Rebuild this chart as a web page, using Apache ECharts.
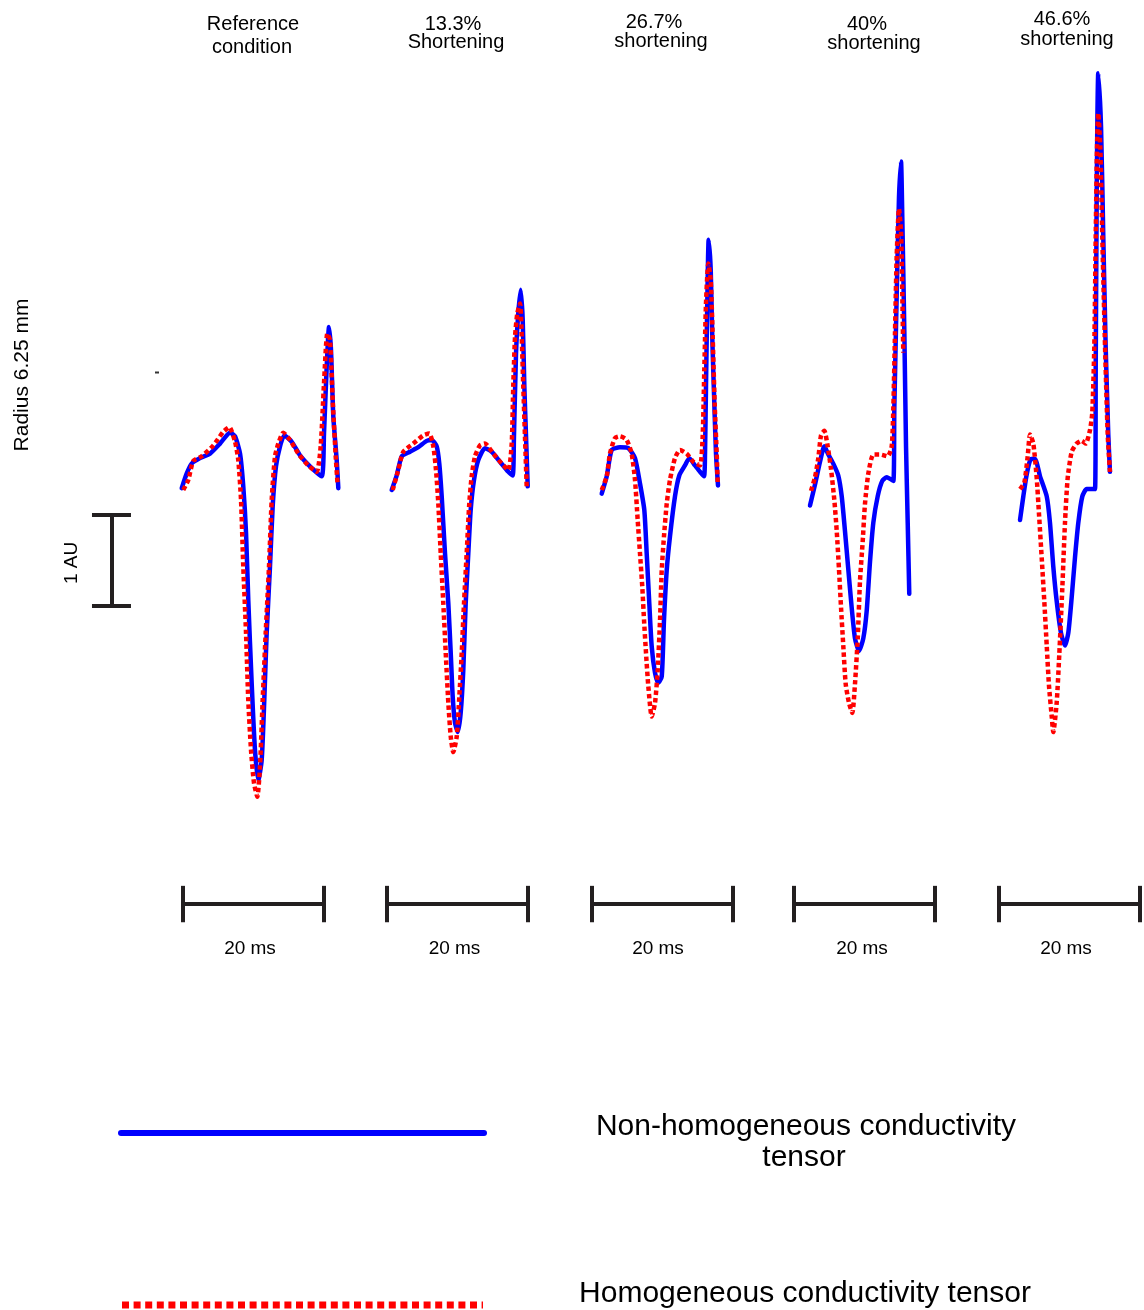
<!DOCTYPE html>
<html>
<head>
<meta charset="utf-8">
<script src="https://cdn.jsdelivr.net/npm/echarts@6/dist/echarts.min.js"></script>
<style>
html,body{margin:0;padding:0;background:#fff;}
#chart{width:1144px;height:1310px;}
</style>
</head>
<body>
<div id="chart"></div>
<script>
// ---- Data (time in ms, amplitude in AU) ----
const panelTitles = [
  ["Reference", "condition"],
  ["13.3%", "Shortening"],
  ["26.7%", "shortening"],
  ["40%", "shortening"],
  ["46.6%", "shortening"]
];
const seriesNames = ["Non-homogeneous conductivity tensor", "Homogeneous conductivity tensor"];
const timeScaleMs = 20;   // horizontal scale bar
const ampScaleAU = 1;     // vertical scale bar
const timeScaleLabel = "20 ms";
const ampScaleLabel = "1 AU";
const radiusLabel = "Radius 6.25 mm";

const p1Blue = [[-0.18,0.02],[0.52,0.18],[1.23,0.29],[2.41,0.35],[3.83,0.40],[5.25,0.51],[6.67,0.63],[7.38,0.59],[8.09,0.40],[8.55,0.04],[8.94,-0.47],[9.26,-1.21],[9.74,-2.12],[10.21,-2.86],[10.68,-3.19],[11.16,-2.97],[11.53,-2.31],[11.87,-1.57],[12.34,-0.84],[12.72,-0.18],[13.19,0.26],[13.76,0.48],[14.37,0.60],[15.42,0.53],[16.60,0.38],[18.01,0.26],[19.67,0.15],[20.0,0.62],[20.38,1.35],[20.71,1.79],[20.99,1.54],[21.32,0.81],[21.80,0.33],[22.03,0.02]];
const p1Red = [[0.04,0.00],[0.75,0.11],[1.46,0.32],[2.65,0.37],[4.30,0.49],[5.72,0.64],[6.57,0.69],[7.38,0.53],[7.84,0.33],[8.23,-0.11],[8.55,-0.84],[8.94,-1.57],[9.26,-2.31],[9.65,-2.86],[10.07,-3.22],[10.54,-3.37],[10.92,-3.04],[11.30,-2.31],[11.73,-1.57],[12.20,-0.84],[12.58,-0.11],[13.05,0.37],[13.52,0.51],[14.23,0.63],[15.18,0.55],[16.35,0.40],[17.77,0.27],[18.96,0.20],[19.53,0.48],[20.00,1.17],[20.47,1.72],[20.85,1.65],[21.23,0.99],[21.66,0.37],[21.94,0.05]];

const p2Blue = [[0.67,0.00],[1.38,0.16],[2.09,0.37],[3.26,0.42],[4.44,0.47],[5.63,0.54],[6.34,0.55],[7.05,0.48],[7.42,0.29],[7.76,-0.07],[8.23,-0.70],[8.70,-1.25],[9.04,-1.79],[9.32,-2.27],[9.65,-2.56],[10.03,-2.66],[10.45,-2.45],[10.82,-1.98],[11.16,-1.25],[11.53,-0.70],[11.87,-0.22],[12.34,0.11],[12.95,0.33],[13.90,0.46],[14.85,0.42],[16.03,0.31],[17.21,0.20],[17.83,0.16],[18.01,0.59],[18.30,1.50],[18.62,1.94],[18.96,2.20],[19.25,1.87],[19.48,1.14],[19.72,0.59],[19.96,0.04]];
const p2Red = [[0.81,0.00],[1.60,0.22],[2.31,0.42],[3.73,0.51],[5.15,0.60],[6.00,0.62],[6.57,0.48],[6.95,0.22],[7.28,-0.15],[7.62,-0.70],[7.99,-1.25],[8.33,-1.79],[8.70,-2.34],[9.04,-2.71],[9.40,-2.88],[9.89,-2.71],[10.26,-2.27],[10.60,-1.79],[10.92,-1.25],[11.30,-0.70],[11.67,-0.15],[12.01,0.15],[12.48,0.37],[13.19,0.49],[13.90,0.51],[15.08,0.40],[16.27,0.29],[17.21,0.22],[17.69,0.51],[17.91,1.14],[18.16,1.68],[18.48,1.94],[18.87,2.05],[19.11,1.68],[19.33,1.14],[19.57,0.59],[19.82,0.02]];

const p3Blue = [[1.38,-0.04],[2.09,0.15],[2.79,0.44],[3.97,0.47],[5.15,0.46],[6.10,0.35],[6.81,0.07],[7.42,-0.22],[7.76,-0.70],[8.13,-1.25],[8.47,-1.72],[8.94,-2.01],[9.40,-2.12],[9.89,-2.05],[10.21,-1.43],[10.60,-0.88],[11.06,-0.51],[11.77,-0.07],[12.38,0.16],[13.19,0.27],[13.80,0.35],[14.61,0.27],[15.32,0.20],[15.89,0.15],[16.03,0.40],[16.17,1.14],[16.35,2.05],[16.55,2.75],[16.84,2.42],[17.06,1.68],[17.35,0.95],[17.59,0.40],[17.87,0.05]];
const p3Red = [[1.38,0.00],[2.09,0.15],[2.55,0.40],[3.26,0.57],[3.97,0.59],[4.91,0.55],[5.62,0.40],[6.10,0.11],[6.48,-0.33],[6.81,-0.70],[7.13,-1.06],[7.38,-1.43],[7.66,-1.79],[7.99,-2.16],[8.47,-2.49],[8.94,-2.34],[9.32,-1.98],[9.65,-1.43],[9.89,-0.88],[10.21,-0.51],[10.60,-0.15],[11.06,0.11],[11.77,0.35],[12.48,0.44],[13.43,0.40],[14.37,0.31],[15.32,0.27],[15.70,0.59],[15.93,1.32],[16.17,2.05],[16.50,2.49],[16.84,2.31],[17.12,1.68],[17.40,0.95],[17.69,0.40],[17.83,0.07]];

const p4Blue = [[2.27,-0.17],[2.98,0.06],[3.69,0.31],[4.30,0.48],[4.87,0.39],[5.57,0.29],[6.28,0.16],[6.77,-0.07],[7.23,-0.45],[7.70,-0.87],[8.18,-1.29],[8.65,-1.63],[9.22,-1.77],[9.83,-1.63],[10.31,-1.33],[10.78,-0.79],[11.25,-0.36],[11.87,-0.07],[12.52,0.10],[13.15,0.14],[14.09,0.10],[14.23,0.90],[14.57,2.16],[14.89,3.21],[15.18,3.61],[15.36,3.00],[15.65,1.74],[15.89,0.48],[16.13,-0.36],[16.35,-1.14]];
const p4Red = [[2.41,-0.01],[2.98,0.14],[3.45,0.35],[3.83,0.60],[4.30,0.65],[4.78,0.48],[5.25,0.23],[5.72,-0.11],[6.06,-0.45],[6.38,-0.87],[6.67,-1.29],[6.99,-1.71],[7.33,-2.13],[7.80,-2.34],[8.27,-2.45],[8.65,-2.13],[9.04,-1.63],[9.36,-1.00],[9.74,-0.57],[10.07,-0.15],[10.54,0.18],[11.25,0.39],[12.20,0.39],[13.29,0.37],[13.86,0.48],[14.09,0.90],[14.33,1.74],[14.57,2.58],[14.89,3.09],[15.18,2.84],[15.36,2.16],[15.50,1.51]];

const p5Blue = [[2.98,-0.33],[3.45,-0.07],[3.93,0.17],[4.54,0.34],[5.11,0.34],[5.82,0.15],[6.77,-0.07],[7.23,-0.36],[7.70,-0.84],[8.18,-1.22],[8.79,-1.57],[9.36,-1.71],[9.83,-1.57],[10.31,-1.18],[10.78,-0.74],[11.25,-0.36],[11.82,-0.07],[12.44,0.01],[13.62,0.01],[13.72,1.34],[13.86,3.27],[14.08,4.58],[14.47,4.00],[14.79,2.79],[15.13,1.58],[15.50,0.61],[15.74,0.20]];
const p5Red = [[2.98,0.01],[3.59,0.08],[4.07,0.37],[4.40,0.61],[4.87,0.51],[5.35,0.13],[5.67,-0.26],[6.06,-0.75],[6.43,-1.23],[6.77,-1.71],[7.09,-2.15],[7.48,-2.49],[7.70,-2.66],[8.18,-2.34],[8.55,-1.81],[8.98,-1.08],[9.36,-0.36],[9.74,0.13],[10.31,0.42],[11.02,0.51],[11.73,0.54],[12.30,0.51],[12.91,0.66],[13.23,0.85],[13.52,1.58],[13.72,2.79],[13.90,3.76],[14.08,4.14],[14.37,3.76],[14.65,2.79],[15.04,1.58],[15.42,0.61],[15.74,0.20]];

const blueTraces = [p1Blue, p2Blue, p3Blue, p4Blue, p5Blue];
const redTraces  = [p1Red, p2Red, p3Red, p4Red, p5Red];

// ---- Layout ----
const FONT = '"Liberation Sans", Arial, Helvetica, sans-serif';
const BLUE = '#0000ff', RED = '#ff0000', INK = '#231f20';
const PX_PER_MS = 7.05, PX_PER_AU = 91;
const X_MIN = -14, Y_MIN = -5, Y_MAX = 5;
const xMaxPerPanel = [23, 23, 23, 23, 20.5];
const BASE_Y = 490;
const panelLeft = [183, 387, 592, 794, 999];   // pixel of t = 0
const barY = -4.55, tickHalf = 0.2;             // AU position of time scale bar

const grids = [], xAxes = [], yAxes = [], series = [];
panelLeft.forEach((pl, i) => {
  const xMax = xMaxPerPanel[i];
  grids.push({
    left: pl + X_MIN * PX_PER_MS,
    top: BASE_Y - Y_MAX * PX_PER_AU,
    width: (xMax - X_MIN) * PX_PER_MS,
    height: (Y_MAX - Y_MIN) * PX_PER_AU,
    containLabel: false
  });
  xAxes.push({type: 'value', gridIndex: i, min: X_MIN, max: xMax, show: false});
  yAxes.push({type: 'value', gridIndex: i, min: Y_MIN, max: Y_MAX, show: false});

  const segStyle = {color: INK, width: 4, type: 'solid', cap: 'butt'};
  const seg = (pts) => ({
    type: 'line', xAxisIndex: i, yAxisIndex: i, data: pts, showSymbol: false,
    lineStyle: segStyle, silent: true, animation: false, clip: false, z: 1
  });
  // time scale bar
  series.push(seg([[0, barY], [timeScaleMs, barY]]));
  series.push(seg([[0, barY + tickHalf], [0, barY - tickHalf]]));
  series.push(seg([[timeScaleMs, barY + tickHalf], [timeScaleMs, barY - tickHalf]]));

  series.push({
    name: seriesNames[0], type: 'line', xAxisIndex: i, yAxisIndex: i,
    data: blueTraces[i], showSymbol: false, animation: false, clip: false, smooth: 0.2,
    lineStyle: {color: BLUE, width: 4.5, cap: 'round', join: 'round'}, z: 2
  });
  series.push({
    name: seriesNames[1], type: 'line', xAxisIndex: i, yAxisIndex: i,
    data: redTraces[i], showSymbol: false, animation: false, clip: false, smooth: 0.2,
    lineStyle: {color: RED, width: 4.5, type: [4.5, 3], cap: 'butt', join: 'round'}, z: 3
  });
});

// vertical amplitude scale bar (panel 1 coordinates)
const auX = -10.07, auTop = -0.275, capL = -12.91, capR = -7.38;
const seg0 = (pts) => ({
  type: 'line', xAxisIndex: 0, yAxisIndex: 0, data: pts, showSymbol: false,
  lineStyle: {color: INK, width: 4, cap: 'butt'}, silent: true, animation: false, clip: false
});
series.push(seg0([[auX, auTop], [auX, auTop - ampScaleAU]]));
series.push(seg0([[capL, auTop], [capR, auTop]]));
series.push(seg0([[capL, auTop - ampScaleAU], [capR, auTop - ampScaleAU]]));

// ---- Text ----
const txt = (s, x, y, size, extra) => Object.assign({
  type: 'text', x: x, y: y, silent: true,
  style: {text: s, font: size + 'px ' + FONT, fill: '#000', align: 'center', verticalAlign: 'middle',
          textAlign: 'center', textVerticalAlign: 'middle'}
}, extra || {});

const titlePos = [
  [[253, 24], [252, 47]],
  [[453, 24], [456, 42]],
  [[654, 22], [661, 41]],
  [[867, 24], [874, 43]],
  [[1062, 19], [1067, 39]]
];
const graphics = [];
panelTitles.forEach((lines, i) => {
  lines.forEach((l, j) => graphics.push(txt(l, titlePos[i][j][0], titlePos[i][j][1], 20)));
});
const msLabelX = [250, 454.5, 658, 862, 1066];
msLabelX.forEach(x => graphics.push(txt(timeScaleLabel, x, 949, 19)));
graphics.push(txt(radiusLabel, 22, 375, 21, {rotation: Math.PI / 2}));
graphics.push(txt(ampScaleLabel, 72, 563, 19, {rotation: Math.PI / 2}));
graphics.push({type: 'rect', shape: {x: 155, y: 371.5, width: 4, height: 2}, style: {fill: '#333'}, silent: true});

// legend
graphics.push({type: 'line', shape: {x1: 121, y1: 1133, x2: 484, y2: 1133},
  style: {stroke: BLUE, lineWidth: 6, lineCap: 'round'}, silent: true});
graphics.push({type: 'line', shape: {x1: 122, y1: 1305, x2: 483, y2: 1305},
  style: {stroke: RED, lineWidth: 7, lineDash: [7, 4.6], lineCap: 'butt'}, silent: true});
graphics.push(txt("Non-homogeneous conductivity", 806, 1127, 30));
graphics.push(txt("tensor", 804, 1158, 30));
graphics.push(txt("Homogeneous conductivity tensor", 805, 1294, 30));

const chart = echarts.init(document.getElementById('chart'), null, {renderer: 'canvas'});
chart.setOption({
  backgroundColor: '#ffffff',
  animation: false,
  grid: grids,
  xAxis: xAxes,
  yAxis: yAxes,
  series: series,
  graphic: graphics
});
</script>
</body>
</html>
